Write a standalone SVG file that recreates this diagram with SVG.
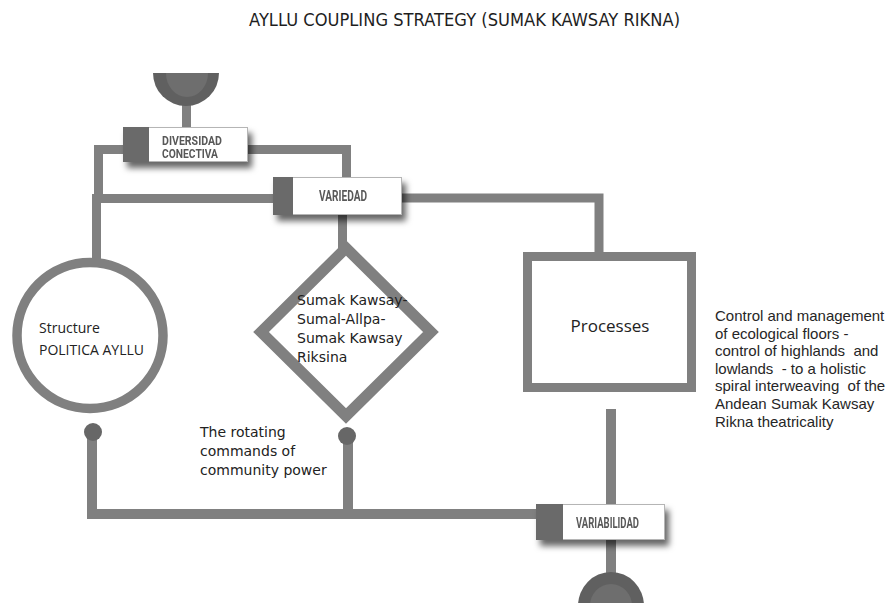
<svg xmlns="http://www.w3.org/2000/svg" width="894" height="603" viewBox="0 0 894 603">
  <defs>
    <filter id="shadow" x="-20%" y="-40%" width="150%" height="200%">
      <feDropShadow dx="4" dy="6" stdDeviation="3" flood-color="#000" flood-opacity="0.6"/>
    </filter>
    <style>
      .wire { fill: none; stroke: #808080; stroke-width: 9; stroke-linejoin: miter; }
      .wire-b { fill: none; stroke: #808080; stroke-width: 10; stroke-linejoin: miter; }
      .shape { fill: #ffffff; stroke: #808080; }
      .dot { fill: #676767; }
      .tag-body { fill: #ffffff; stroke: #b5b5b5; stroke-width: 1; }
      .tag-key { fill: #6b6b6b; }
      .tag-text { font-family: Roboto, "DejaVu Sans", sans-serif; font-weight: 700; fill: #595959; }
      .body-dj { font-family: "DejaVu Sans", sans-serif; font-size: 14px; fill: #222; }
      .body-os { font-family: "Open Sans", "Noto Sans", sans-serif; fill: #222; }
      .note { font-family: "Liberation Sans", Arial, sans-serif; font-size: 15px; fill: #262626; white-space: pre; }
    </style>
  </defs>

  <rect width="894" height="603" fill="#ffffff"/>

  <!-- title -->
  <text x="249" y="26" font-family="DejaVu Sans, sans-serif" font-size="17" fill="#1e1e1e" textLength="431" lengthAdjust="spacingAndGlyphs">AYLLU COUPLING STRATEGY (SUMAK KAWSAY RIKNA)</text>

  <!-- connectors -->
  <g id="connectors">
    <path class="wire" d="M186.5 104 V128"/>
    <path class="wire" d="M124 149.5 H98.5 V198.5"/>
    <path class="wire" d="M247 149.5 H346.5 V178"/>
    <path class="wire" d="M274 198.5 H96.5 V262"/>
    <path class="wire" d="M401 198 H599 V253"/>
    <path class="wire" d="M342.5 214 V250"/>
    <path class="wire-b" d="M92 432 V514 H537"/>
    <path class="wire-b" d="M348 436 V514"/>
    <path class="wire-b" d="M611 409 V505"/>
    <path class="wire-b" d="M611 539 V576"/>
  </g>

  <!-- input dome -->
  <g id="source">
    <path d="M153 73 A33 33 0 0 0 219 73 Z" fill="#606060"/>
    <path d="M166 73 A21 24 0 0 0 208 73 Z" fill="#6e6e6e"/>
  </g>

  <!-- output dome -->
  <g id="sink">
    <path d="M578 606 A33 34 0 0 1 644 606 Z" fill="#606060"/>
    <path d="M590 606 A21 22 0 0 1 632 606 Z" fill="#6e6e6e"/>
  </g>

  <!-- tag: diversidad conectiva -->
  <g id="diversidad" filter="url(#shadow)">
    <rect class="tag-body" x="123.5" y="127.5" width="124" height="34"/>
    <rect class="tag-key" x="123" y="127" width="26" height="35"/>
    <text class="tag-text" font-size="12.5" x="162" y="144.5" textLength="60" lengthAdjust="spacingAndGlyphs">DIVERSIDAD</text>
    <text class="tag-text" font-size="12.5" x="162" y="158" textLength="56" lengthAdjust="spacingAndGlyphs">CONECTIVA</text>
  </g>

  <!-- tag: variedad -->
  <g id="variedad" filter="url(#shadow)">
    <rect class="tag-body" x="273.5" y="177.5" width="128" height="37"/>
    <rect class="tag-key" x="273" y="177" width="20" height="38"/>
    <text class="tag-text" font-size="14.5" x="319" y="200.5" textLength="48" lengthAdjust="spacingAndGlyphs">VARIEDAD</text>
  </g>

  <!-- tag: variabilidad -->
  <g id="variabilidad" filter="url(#shadow)">
    <rect class="tag-body" x="536.5" y="504.5" width="128" height="35"/>
    <rect class="tag-key" x="536" y="504" width="27" height="36"/>
    <text class="tag-text" font-size="14" x="576" y="527.5" textLength="63" lengthAdjust="spacingAndGlyphs">VARIABILIDAD</text>
  </g>

  <!-- structure circle -->
  <g id="structure">
    <circle class="shape" cx="90" cy="335.5" r="73" stroke-width="9.5"/>
    <text class="body-os" font-size="14" x="39" y="333">Structure</text>
    <text class="body-os" font-size="14" x="39" y="355">POLITICA AYLLU</text>
    <circle class="dot" cx="93" cy="432" r="9"/>
  </g>

  <!-- sumak kawsay diamond -->
  <g id="sumak">
    <polygon class="shape" stroke-width="11" points="346,248 431,332 346,416 261,332"/>
    <text class="body-dj" x="297" y="305">Sumak Kawsay-</text>
    <text class="body-dj" x="297" y="324">Sumal-Allpa-</text>
    <text class="body-dj" x="297" y="343">Sumak Kawsay</text>
    <text class="body-dj" x="297" y="362">Riksina</text>
    <circle class="dot" cx="347" cy="436" r="9"/>
  </g>

  <!-- rotating commands note -->
  <g id="rotating">
    <text class="body-dj" x="200" y="437">The rotating</text>
    <text class="body-dj" x="200" y="456">commands of</text>
    <text class="body-dj" x="200" y="475">community power</text>
  </g>

  <!-- processes box -->
  <g id="processes">
    <rect class="shape" x="527.5" y="256.5" width="164" height="131" stroke-width="9"/>
    <text class="body-os" font-size="17" x="610" y="332" text-anchor="middle">Processes</text>
  </g>

  <!-- ecological floors note -->
  <g id="ecology">
    <text class="note" x="715" y="321">Control and management</text>
    <text class="note" x="715" y="338.5">of ecological floors -</text>
    <text class="note" x="715" y="356">control of highlands  and</text>
    <text class="note" x="715" y="373.5">lowlands  - to a holistic</text>
    <text class="note" x="715" y="391">spiral interweaving  of the</text>
    <text class="note" x="715" y="409">Andean Sumak Kawsay</text>
    <text class="note" x="715" y="427">Rikna theatricality</text>
  </g>
</svg>
